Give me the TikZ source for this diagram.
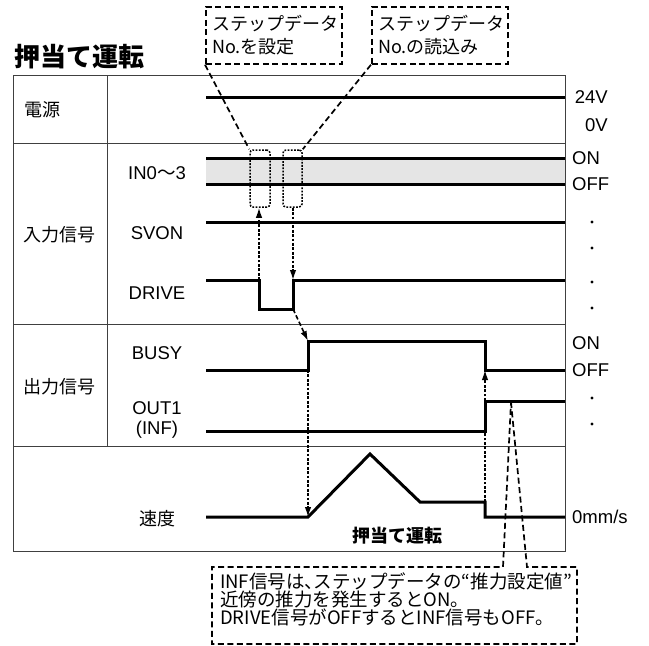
\documentclass[tikz,border=0pt]{standalone}
\usepackage{fontspec}
\setmainfont{Noto Sans CJK JP}
\newfontfamily\latinf{Liberation Sans}
\usetikzlibrary{arrows.meta}
\begin{document}
\begin{tikzpicture}[x=1pt,y=-1pt,
  sig/.style={line width=3pt, line join=miter, line cap=butt},
  grid/.style={line width=0.9pt, draw=black!75},
  dashline/.style={line width=1.7pt, dash pattern=on 6pt off 3.5pt},
  callout/.style={draw, dashline},
  dotbox/.style={draw, line width=1.5pt, dash pattern=on 1.8pt off 1.4pt, rounded corners=3pt},
  dotarrow/.style={line width=1.4pt, dash pattern=on 2.8pt off 1.6pt, -{Latex[length=10pt,width=6.5pt]}},
  dasharrow/.style={line width=1.6pt, dash pattern=on 4.5pt off 2.5pt, -{Latex[length=10pt,width=6.5pt]}},
  lbl/.style={font=\fontsize{18}{20}\selectfont, inner sep=0pt},
  ltn/.style={font=\fontsize{18.5}{20}\selectfont\latinf, inner sep=0pt},
  rlbl/.style={ltn, anchor=west},
  dotmark/.style={fill=black, circle, inner sep=0pt, minimum size=3.2pt}]
\useasboundingbox (0,0) rectangle (649,646);

% title
\node[anchor=west, inner sep=0pt, font=\fontsize{26}{28}\selectfont\bfseries] (title) at (14,57) {押当て運転};

% table
\draw[grid] (13,75) rectangle (565,551);
\draw[grid] (13,143) -- (565,143);
\draw[grid] (13,324) -- (565,324);
\draw[grid] (13,446) -- (565,446);
\draw[grid] (107,75) -- (107,446);

% group labels
\node[lbl, anchor=west] (power) at (24,110) {電源};
\node[lbl, anchor=west] (inp) at (23,235) {入力信号};
\node[lbl, anchor=west] (outp) at (23,387) {出力信号};

% signal labels
\node[ltn] (in03) at (157,173) {IN0{\normalfont ～}3};
\node[ltn] (svon) at (157,233) {SVON};
\node[ltn] (drive) at (157,293) {DRIVE};
\node[ltn] (busy) at (157,353) {BUSY};
\node[ltn] (out1) at (157,408) {OUT1};
\node[ltn] (inf) at (157,430) {(INF)};
\node[lbl] (speed) at (157,519) {速度};

% right labels
\node[ltn, anchor=east] (v24) at (608,97) {24V};
\node[ltn, anchor=east] (v0) at (608,125) {0V};
\node[rlbl] (on1) at (572,158) {ON};
\node[rlbl] (off1) at (572,184) {OFF};
\node[dotmark] (d1) at (592,222) {};
\node[dotmark] (d2) at (592,248) {};
\node[dotmark] (d3) at (592,282) {};
\node[dotmark] (d4) at (592,308) {};
\node[rlbl] (on2) at (572,343) {ON};
\node[rlbl] (off2) at (572,370) {OFF};
\node[dotmark] (d5) at (592,398) {};
\node[dotmark] (d6) at (592,424) {};
\node[rlbl] (mms) at (572,517) {0mm/s};

% signals
\draw[sig] (206,97) -- (565,97);
\fill[black!10] (206,158) rectangle (565,184);
\draw[sig] (206,158) -- (565,158);
\draw[sig] (206,184) -- (565,184);
\draw[sig] (206,222) -- (565,222);
\draw[sig] (206,280) -- (259,280) -- (259,309) -- (293,309) -- (293,280) -- (565,280);
\draw[sig] (206,370) -- (308,370) -- (308,341) -- (485,341) -- (485,370) -- (565,370);
\draw[sig] (206,431) -- (485,431) -- (485,401) -- (565,401);
\draw[sig] (206,517) -- (308,517) -- (370,454) -- (420,502) -- (485,502) -- (485,517) -- (565,517);

\node[inner sep=0pt, font=\fontsize{18}{19}\selectfont\bfseries] (pushlbl) at (397,536) {押当て運転};

% key points
\coordinate (dfall) at (259,280);
\coordinate (drise) at (293,280);
\coordinate (drisebot) at (293,309);
\coordinate (brise) at (308,341);
\coordinate (brisebot) at (308,370);
\coordinate (vstart) at (308,517);
\coordinate (vfall) at (485,502);
\coordinate (bfall) at (485,370);
\coordinate (orise) at (511,402);

% dotted boxes on IN0~3
\node[dotbox, minimum width=20pt, minimum height=57pt, inner sep=0pt] (boxa) at (260,178.5) {};
\node[dotbox, minimum width=19pt, minimum height=57pt, inner sep=0pt] (boxb) at (292.5,178.5) {};

% top callouts
\node[callout, anchor=north west, minimum width=136pt, minimum height=57pt, inner sep=0pt] (c1) at (205,6) {};
\node[anchor=north west, inner sep=0pt, align=left, font=\fontsize{18}{23}\selectfont] (c1t) at (212,14.5) {ステップデータ\\No.を設定};
\node[callout, anchor=north west, minimum width=136pt, minimum height=57pt, inner sep=0pt] (c2) at (371,6) {};
\node[anchor=north west, inner sep=0pt, align=left, font=\fontsize{18}{23}\selectfont] (c2t) at (378,14.5) {ステップデータ\\No.の読込み};
\draw[dashline] (c1.south west) -- (boxa.north west);
\draw[dashline] (c2.south west) -- (boxb.north east);

% arrows
\draw[dotarrow] (dfall) -- (dfall |- boxa.south);
\draw[dotarrow] (drise |- boxb.south) -- (drise);
\draw[dasharrow] (drisebot) -- (brise);
\draw[dotarrow] (brisebot) -- (vstart);
\draw[dotarrow] (vfall) -- (bfall);

% bottom callout
\draw[dashline] (orise) -- (527,567) -- (577,567) -- (577,644) -- (212,644) -- (212,567) -- (503,567) -- cycle;
\node[anchor=north west, inner sep=0pt, align=left, font=\fontsize{18.5}{18}\selectfont] (note) at (220,572.5) {INF信号は\makebox[0.5em][l]{、}ステップデータの“推力設定値”\\近傍の推力を発生するとON。\\DRIVE信号がOFFするとINF信号もOFF。};
\end{tikzpicture}
\end{document}
